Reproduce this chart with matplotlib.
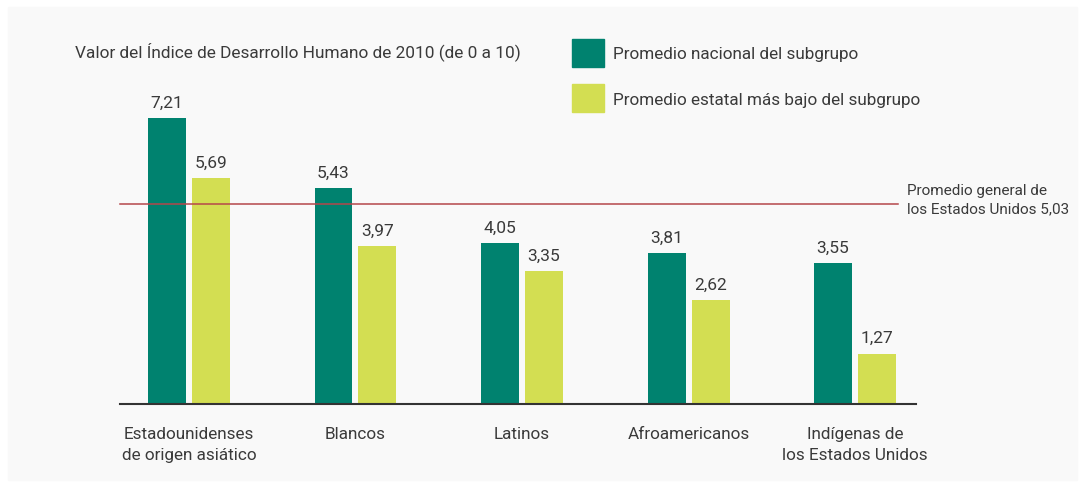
import matplotlib.pyplot as plt
from matplotlib.patches import Patch, Rectangle
import numpy as np

# data
groups = ["Estadounidenses\nde origen asiático", "Blancos", "Latinos",
          "Afroamericanos", "Indígenas de\nlos Estados Unidos"]
national_avg = [7.21, 5.43, 4.05, 3.81, 3.55]
state_low = [5.69, 3.97, 3.35, 2.62, 1.27]
us_avg = 5.03

teal = "#00826f"
lime = "#d3de52"
txt = "#3a3a3a"

plt.rcParams['font.family'] = ['Roboto', 'DejaVu Sans']
plt.rcParams['font.size'] = 12.3

fig = plt.figure(figsize=(10.86, 4.89), dpi=100)
fig.patch.set_facecolor("white")
fig.add_artist(Rectangle((8 / 1086, 8 / 489), 1069 / 1086, 473 / 489,
                         transform=fig.transFigure, color="#f9f9f9", zorder=-10))

ax = fig.add_axes([0.1105, 0.1718, 0.733, 0.6495])
ax.set_facecolor("none")

x = np.arange(len(groups))
w = 0.228
off = 0.132
b1 = ax.bar(x - off, national_avg, w, color=teal)
b2 = ax.bar(x + off, state_low, w, color=lime)

for bars, vals in ((b1, national_avg), (b2, state_low)):
    for r, v in zip(bars, vals):
        ax.annotate(f"{v:.2f}".replace(".", ","), (r.get_x() + r.get_width() / 2, v),
                    xytext=(0, 6), textcoords="offset points", ha="center", va="bottom",
                    color=txt, fontsize=12.5)

ax.plot([-0.414, 4.26], [us_avg, us_avg], color="#b5474b", lw=1.1, clip_on=False)
ax.annotate("Promedio general de\nlos Estados Unidos 5,03", (4.26, us_avg + 0.13),
            xytext=(6, 0), textcoords="offset points", ha="left", va="center",
            color=txt, fontsize=11, linespacing=1.4, annotation_clip=False)

ax.set_xlim(-0.414, 4.366)
ax.set_ylim(0, 8)
ax.set_xticks(x)
ax.set_xticklabels(groups, color=txt, linespacing=1.45)
ax.tick_params(axis="x", length=0, pad=16)
ax.set_yticks([])
for s in ("top", "right", "left"):
    ax.spines[s].set_visible(False)
ax.spines["bottom"].set_color("#333333")
ax.spines["bottom"].set_linewidth(1.5)

fig.text(75 / 1086, 1 - 52 / 489, "Valor del Índice de Desarrollo Humano de 2010 (de 0 a 10)",
         ha="left", va="center", color=txt, fontsize=12.4)

handles = [Patch(color=teal), Patch(color=lime)]
leg = fig.legend(handles, ["Promedio nacional del subgrupo", "Promedio estatal más bajo del subgrupo"],
                 loc="upper left", bbox_to_anchor=(572 / 1086, 1 - 40 / 489), frameon=False,
                 borderpad=0, borderaxespad=0, handlelength=1.9, handleheight=2.15,
                 handletextpad=0.5, labelspacing=1.0, fontsize=12.3)
for t in leg.get_texts():
    t.set_color(txt)

fig.savefig("out.png", dpi=100)
